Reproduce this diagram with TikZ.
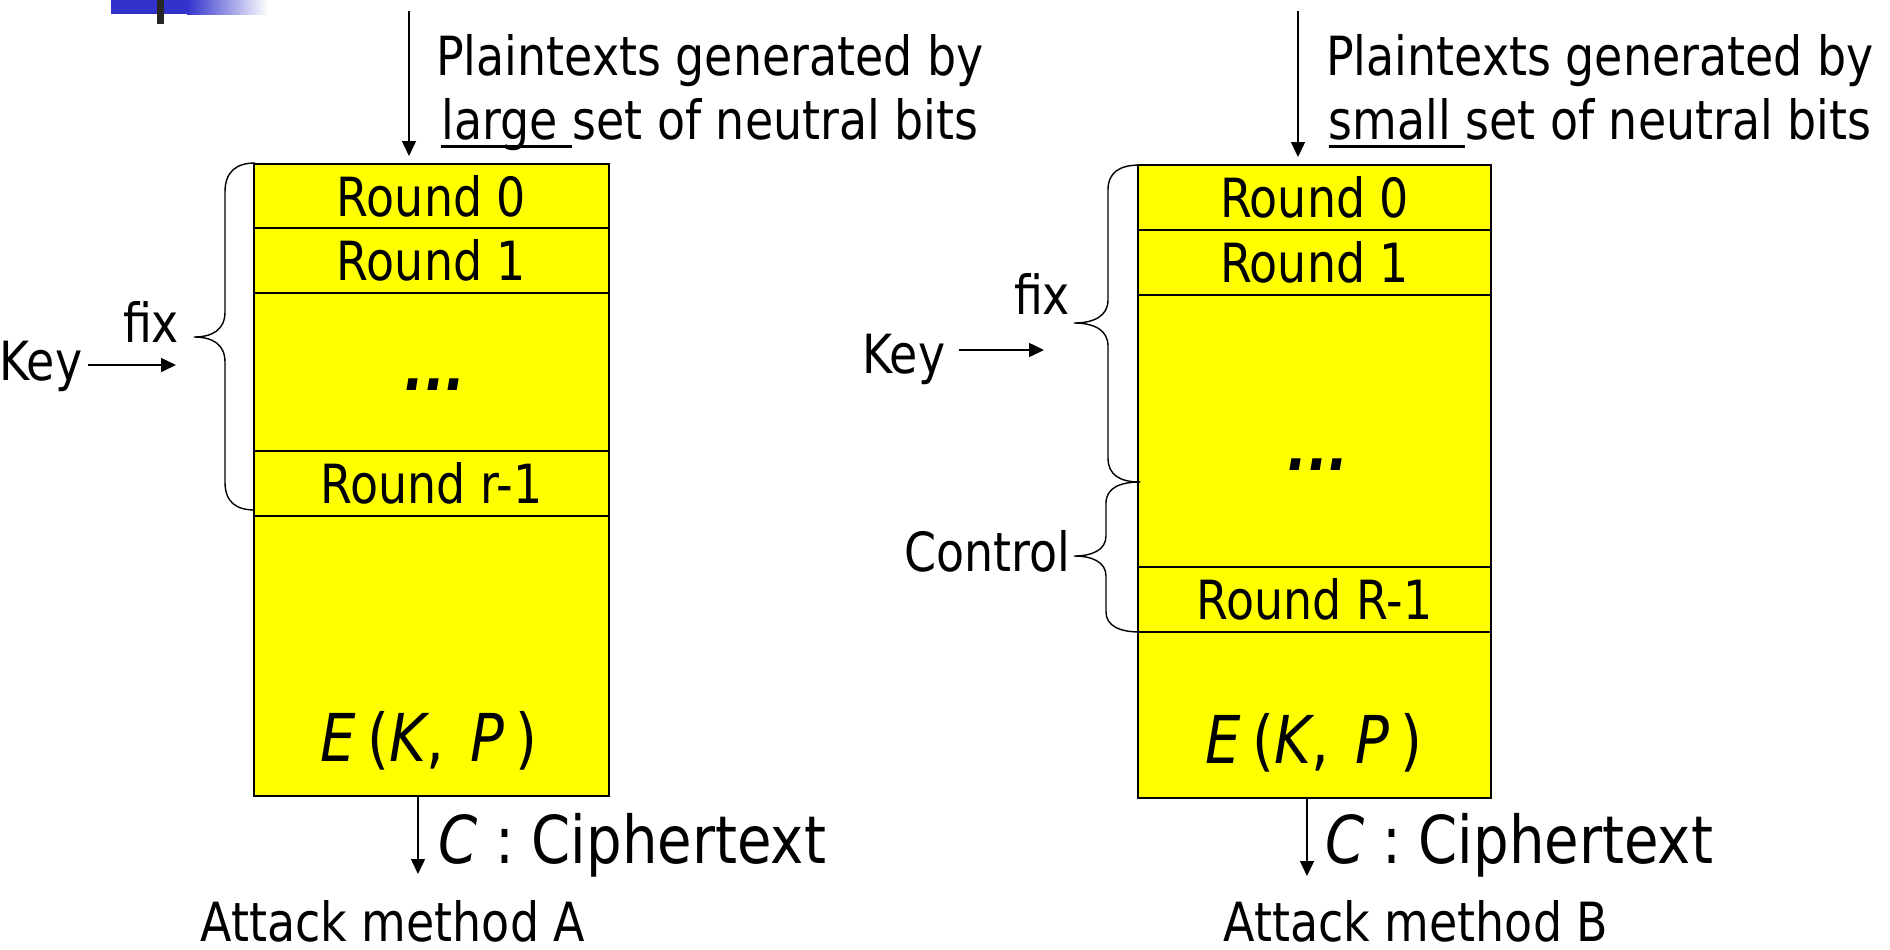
\documentclass[tikz,border=0pt]{standalone}
\usepackage{fontspec}
\setmainfont{DejaVu Sans}[FakeStretch=0.85]
\usetikzlibrary{arrows.meta}
\definecolor{hdrblue}{HTML}{3333CC}
\definecolor{boxyellow}{HTML}{FFFF00}
\newcommand{\ulw}[1]{\setbox0\hbox{#1}\rlap{\rule[-4.6pt]{\wd0}{1.6pt}}\box0}
\begin{document}
\begin{tikzpicture}[x=0.5pt,y=-0.5pt,
  every node/.style={inner sep=0pt, outer sep=0pt},
  txt/.style={font=\fontsize{27}{32}\selectfont},
  bigtxt/.style={font=\fontsize{33}{38}\selectfont},
  ektxt/.style={font=\fontsize{33}{38}\selectfont},
  dotstxt/.style={font=\fontsize{31}{36}\selectfont\bfseries\itshape},
  rowL/.style={draw=black, fill=boxyellow, line width=1pt, minimum width=177.5pt, anchor=north, txt},
  rowR/.style={rowL, minimum width=176.5pt},
  arr/.style={line width=0.75pt, -{Triangle[length=7.5pt,width=7pt]}},
  brc/.style={line width=0.7pt},
]
\useasboundingbox (0,0) rectangle (1890,949);
% header bar
\fill[hdrblue] (111,0) rectangle (188,14);
\shade[left color=hdrblue, right color=white] (187,0) rectangle (268,14);
\fill[black!85] (157,0) rectangle (164,24);

% ---------------- Left: method A
\node[rowL, minimum height=32pt] (L0) at (431.5,164) {Round 0};
\node[rowL, minimum height=32.5pt] (L1) at (L0.south) {Round 1};
\node[rowL, minimum height=79pt] (L2) at (L1.south) {};
\node[rowL, minimum height=32.5pt] (L3) at (L2.south) {Round r-1};
\node[rowL, minimum height=140pt] (L4) at (L3.south) {};
\node[dotstxt, anchor=base] (Ldots) at (435,390) {...};
\node[ektxt, anchor=base] (LE) at (429,761) {\textit{E}\hspace{6pt}(\textit{K},\hspace{4pt} \textit{P}\hspace{6pt})};

\node[txt, anchor=base] (LT1) at (710,75) {Plaintexts generated by};
\node[txt, anchor=base] (LT2) at (710,139) {\ulw{large }set of neutral bits};
\coordinate (LTa) at (409,11);
\draw[arr, shorten >=4pt] (LTa) -- (LTa |- L0.north);

\node[txt, anchor=base west] (LKey) at (-1,380) {Key};
\coordinate (LKa) at (176,365);
\draw[arr, shorten <=3pt] (LKey.east |- LKa) -- (LKa);
\node[txt, anchor=base west] (Lfix) at (123,342) {fix};
\draw[brc] (255,163) .. controls (236,163) and (225,172) .. (225,192) -- (225,312)
  .. controls (225,330) and (212,337) .. (194,337)
  .. controls (212,337) and (225,344) .. (225,362) -- (225,482)
  .. controls (225,502) and (236,510) .. (255,510);

\coordinate (LCa) at (418,874);
\draw[arr] (LCa |- L4.south) -- (LCa);
\node[bigtxt, anchor=base west] (LC) at (438,863) {\textit{C} : Ciphertext};
\node[txt, anchor=base] (LA) at (393,941) {Attack method A};

% ---------------- Right: method B
\node[rowR, minimum height=32.5pt] (R0) at (1314.5,165) {Round 0};
\node[rowR, minimum height=32.5pt] (R1) at (R0.south) {Round 1};
\node[rowR, minimum height=136pt] (R2) at (R1.south) {};
\node[rowR, minimum height=32.5pt] (R3) at (R2.south) {Round R-1};
\node[rowR, minimum height=83pt] (R4) at (R3.south) {};
\node[dotstxt, anchor=base] (Rdots) at (1318,470) {...};
\node[ektxt, anchor=base] (RE) at (1314,763) {\textit{E}\hspace{6pt}(\textit{K},\hspace{4pt} \textit{P}\hspace{6pt})};

\node[txt, anchor=base] (RT1) at (1600,75) {Plaintexts generated by};
\node[txt, anchor=base] (RT2) at (1600,139) {\ulw{small }set of neutral bits};
\coordinate (RTa) at (1298,11);
\draw[arr, shorten >=4pt] (RTa) -- (RTa |- R0.north);

\node[txt, anchor=base west] (RKey) at (862,373) {Key};
\coordinate (RKa) at (1044,350);
\draw[arr, shorten <=7pt] (RKey.east |- RKa) -- (RKa);
\node[txt, anchor=base west] (Rfix) at (1014,314) {fix};
\node[txt, anchor=base west] (Rctl) at (904,571) {Control};
\draw[brc] (1140,165) .. controls (1120,165) and (1108,172) .. (1108,190) -- (1108,300)
  .. controls (1108,316) and (1094,323) .. (1074,323)
  .. controls (1094,323) and (1108,330) .. (1108,346) -- (1108,458)
  .. controls (1108,475) and (1120,482) .. (1140,482);
\draw[brc] (1140,482) .. controls (1120,482) and (1106,488) .. (1106,503) -- (1106,536)
  .. controls (1106,550) and (1092,556) .. (1074,556)
  .. controls (1092,556) and (1106,562) .. (1106,576) -- (1106,612)
  .. controls (1106,626) and (1120,632) .. (1140,632);

\coordinate (RCa) at (1307,876);
\draw[arr] (RCa |- R4.south) -- (RCa);
\node[bigtxt, anchor=base west] (RC) at (1325,863) {\textit{C} : Ciphertext};
\node[txt, anchor=base] (RA) at (1416,941) {Attack method B};
\end{tikzpicture}
\end{document}
